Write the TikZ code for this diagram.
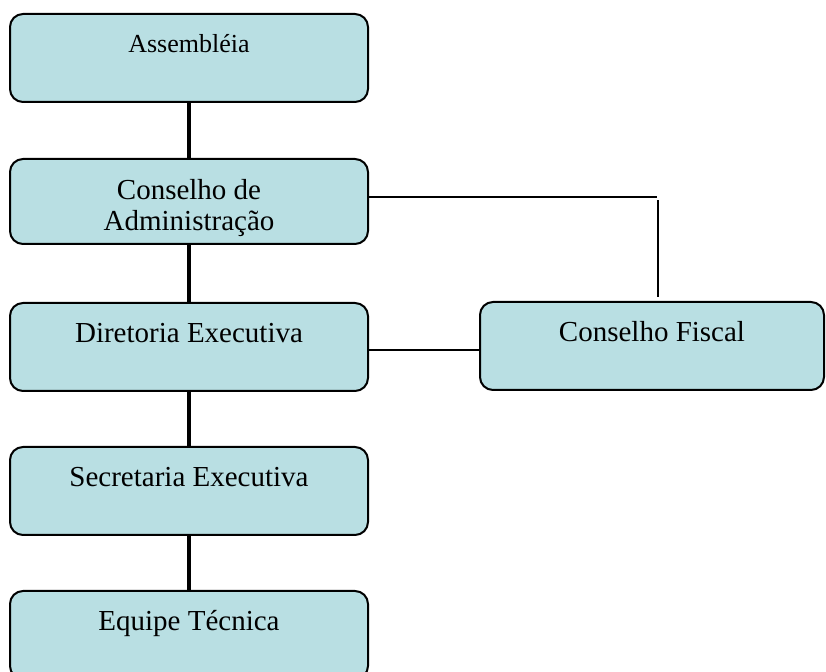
\documentclass[tikz,border=0pt]{standalone}
\usepackage{fontspec}
\setmainfont{Liberation Serif}
\usepackage{xcolor}
\usetikzlibrary{calc}
\definecolor{boxfill}{RGB}{185,223,227}

\begin{document}
\begin{tikzpicture}[x=0.5pt,y=-0.5pt]

\tikzset{line/.style={draw,line width=1pt}}
\tikzset{box/.style={line,fill=boxfill,rounded corners=6.5pt,inner sep=0pt,
  minimum width=179pt,anchor=north,align=center,font=\fontsize{14.5}{15.5}\selectfont,
  text height=20pt,text depth=24pt}}
\tikzset{thickline/.style={draw,line width=1.6pt}}
\tikzset{thinline/.style={draw,line width=0.9pt}}

\useasboundingbox (0,0) rectangle (826,672);

\node[box,font=\fontsize{13}{15}\selectfont,text height=19.5pt,text depth=24.5pt] (assem) at (189,13) {Assembléia};
\node[box,text height=36pt,text depth=6.5pt] (consadm) at (189,158) {Conselho de\\Administração};
\node[box] (diret) at (189,302) {Diretoria Executiva};
\node[box] (secret) at (189,446) {Secretaria Executiva};
\node[box] (equipe) at (189,590) {Equipe Técnica};
\node[box,minimum width=172pt] (consfis) at (652,301) {Conselho Fiscal};

\path[thickline] (assem) to (consadm);
\path[thickline] (consadm) to (diret);
\path[thickline] (diret) to (secret);
\path[thickline] (secret) to (equipe);

\path[thinline] (consadm.east |- 0,197) to (657,197);
\path[thinline] ($(consfis.north)+(6,-4)$) to ($(consfis.north)+(6,-101)$);
\path[thinline] (diret.east |- 0,350) to (consfis.west |- 0,350);

\end{tikzpicture}
\end{document}
